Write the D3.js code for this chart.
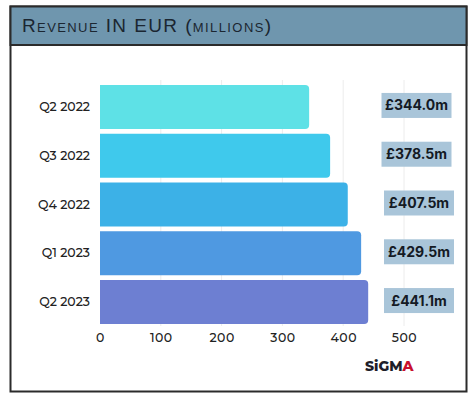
<!DOCTYPE html>
<html>
<head>
<meta charset="utf-8">
<script src="https://cdn.jsdelivr.net/npm/d3@7"></script>
<style>
  html, body { margin: 0; padding: 0; background: #fff; }
  svg { display: block; }
</style>
</head>
<body>
<svg id="chart" width="474" height="399"></svg>
<script>
const categories = ["Q2 2022", "Q3 2022", "Q4 2022", "Q1 2023", "Q2 2023"];
const revenue = [344.0, 378.5, 407.5, 429.5, 441.1];
const valueLabels = ["£344.0m", "£378.5m", "£407.5m", "£429.5m", "£441.1m"];
const barColors = ["#5ee1e6", "#3fc9ec", "#3cb1e7", "#4f99e1", "#6d7fd2"];
const xTicks = [0, 100, 200, 300, 400, 500];
const titleText = "Revenue IN EUR (millions)";

const svg = d3.select("#chart");
const font = "Montserrat, 'Open Sans', 'Noto Sans', sans-serif";

// frame
svg.append("rect").attr("x", 10.5).attr("y", 6.5).attr("width", 456).attr("height", 385)
  .attr("fill", "#fff").attr("stroke", "#2b2b2b").attr("stroke-width", 2);
svg.append("rect").attr("x", 10.5).attr("y", 6.5).attr("width", 456).attr("height", 38.5)
  .attr("fill", "#6f96ae").attr("stroke", "#2b2b2b").attr("stroke-width", 2);
svg.append("text").attr("x", 22).attr("y", 32)
  .attr("font-family", "'Liberation Sans', 'DejaVu Sans', sans-serif")
  .attr("font-size", 19).attr("fill", "#1b2631")
  .style("font-variant", "small-caps").attr("letter-spacing", 1.4)
  .text(titleText);

const x = d3.scaleLinear().domain([0, 500]).range([100, 404]);
const y = d3.scaleBand().domain(categories).range([85, 324]).paddingInner(0.1).paddingOuter(0);

// gridlines
svg.append("g").selectAll("line").data(xTicks.slice(1)).join("line")
  .attr("x1", d => x(d)).attr("x2", d => x(d))
  .attr("y1", 80).attr("y2", 326)
  .attr("stroke", "#ececec").attr("stroke-width", 1);

// bars: square left, rounded right
const r = 4;
svg.append("g").selectAll("path").data(categories).join("path")
  .attr("fill", (d, i) => barColors[i])
  .attr("d", (d, i) => {
    const x0 = x(0), x1 = x(revenue[i]), y0 = y(d), h = y.bandwidth();
    return `M${x0},${y0}H${x1 - r}Q${x1},${y0} ${x1},${y0 + r}V${y0 + h - r}Q${x1},${y0 + h} ${x1 - r},${y0 + h}H${x0}Z`;
  });

// y axis labels
const yAxis = d3.axisLeft(y).tickSize(0).tickPadding(0);
const gy = svg.append("g").attr("transform", "translate(90,0)").call(yAxis);
gy.select(".domain").remove();
gy.selectAll("text").attr("font-family", font).attr("font-size", 12.5)
  .attr("font-weight", 500).attr("fill", "#222");

// x axis labels
const xAxis = d3.axisBottom(x).tickValues(xTicks).tickSize(0).tickPadding(0).tickFormat(d3.format("d"));
const gx = svg.append("g").attr("transform", "translate(0,333)").call(xAxis);
gx.select(".domain").remove();
gx.selectAll("text").attr("font-family", font).attr("font-size", 12.5)
  .attr("font-weight", 500).attr("fill", "#222").attr("letter-spacing", 0.5);

// value label boxes
const boxX = [381.5, 381.5, 384, 384, 384];
const lbl = svg.append("g").selectAll("g").data(categories).join("g")
  .attr("transform", (d, i) => `translate(${boxX[i]},${y(d) + y.bandwidth() / 2 - 1.5})`);
lbl.append("rect").attr("x", 0).attr("y", -12.5).attr("width", 70).attr("height", 25)
  .attr("fill", "#a9c5d9");
lbl.append("text").attr("x", 35).attr("y", 0).attr("dy", "0.36em")
  .attr("text-anchor", "middle")
  .attr("font-family", "Inter, 'Open Sans', sans-serif")
  .attr("font-size", 14).attr("font-weight", 700).attr("fill", "#141a24")
  .text((d, i) => valueLabels[i]);

// logo
const logo = svg.append("text").attr("x", 365).attr("y", 371)
  .attr("font-family", "Montserrat, 'Open Sans', sans-serif")
  .attr("font-size", 14).attr("font-weight", 800).attr("fill", "#1e1e2a");
logo.append("tspan").text("SiGM");
logo.append("tspan").attr("fill", "#c8102e").text("A");
</script>
</body>
</html>
